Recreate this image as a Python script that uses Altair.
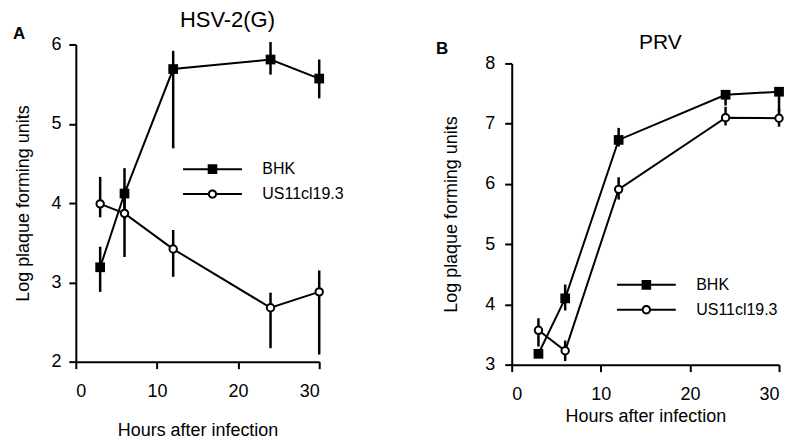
import altair as alt
import pandas as pd

FONT = "Liberation Sans"

hours = [3, 6, 12, 24, 30]
series_names = ["BHK", "US11cl19.3"]

# Panel A: HSV-2(G)
a_bhk = [3.19, 4.12, 5.69, 5.81, 5.57]
a_bhk_lo = [2.88, 3.80, 4.69, 5.62, 5.32]
a_bhk_hi = [3.45, 4.44, 5.92, 6.03, 5.81]
a_us = [3.99, 3.87, 3.42, 2.68, 2.88]
a_us_lo = [3.82, 3.32, 3.07, 2.17, 2.09]
a_us_hi = [4.33, 4.20, 3.66, 2.87, 3.15]

# Panel B: PRV
b_bhk = [3.18, 4.10, 6.73, 7.48, 7.53]
b_bhk_lo = [3.12, 3.90, 6.62, 7.30, 7.20]
b_bhk_hi = [3.26, 4.33, 6.93, 7.55, 7.60]
b_us = [3.57, 3.23, 5.91, 7.10, 7.09]
b_us_lo = [3.30, 3.06, 5.74, 6.97, 6.95]
b_us_hi = [3.77, 3.40, 6.11, 7.28, 7.25]

BHK_PATH = "M-2.95,-0.1H2.95V0.1H-2.95Z M-0.48,-0.48H0.48V0.48H-0.48Z"
US_PATH = ("M-2.95,-0.1H-0.4V0.1H-2.95Z M0.4,-0.1H2.95V0.1H0.4Z "
           "M0.47,0A0.47,0.47 0 1,1 -0.47,0A0.47,0.47 0 1,1 0.47,0Z "
           "M0.27,0A0.27,0.27 0 1,0 -0.27,0A0.27,0.27 0 1,0 0.27,0Z")


def make_df(bhk, bhk_lo, bhk_hi, us, us_lo, us_hi):
    rows = []
    for i, h in enumerate(hours):
        rows.append(dict(hours=h, value=bhk[i], lo=bhk_lo[i], hi=bhk_hi[i], series="BHK"))
    for i, h in enumerate(hours):
        rows.append(dict(hours=h, value=us[i], lo=us_lo[i], hi=us_hi[i], series="US11cl19.3"))
    return pd.DataFrame(rows)


def panel(df, width, height, ydom, yrange, yticks, title, title_dx, title_dy, title_size,
          legend_x, legend_y, letter, letter_x, letter_y,
          xtitle_pad, ytitle_pad, ylabel_pad):
    xscale = alt.Scale(domain=[0, 30], nice=False, zero=False)
    yscale = alt.Scale(domain=ydom, range=yrange, nice=False, zero=False)
    xaxis = alt.Axis(values=[0, 10, 20, 30], title="Hours after infection",
                     titlePadding=xtitle_pad, labelPadding=14)
    yaxis = alt.Axis(values=yticks, title="Log plaque forming units",
                     titlePadding=ytitle_pad, labelPadding=ylabel_pad)
    x = alt.X("hours:Q", scale=xscale, axis=xaxis)
    y = alt.Y("value:Q", scale=yscale, axis=yaxis)
    base = alt.Chart(df)

    err = base.mark_rule(color="black", strokeWidth=2.5).encode(
        x=x, y=alt.Y("lo:Q", scale=yscale, axis=yaxis), y2="hi:Q")
    lines = base.mark_line(color="black", strokeWidth=2).encode(
        x=x, y=y, detail="series:N", order="hours:Q")
    sq = base.transform_filter(alt.datum.series == "BHK").mark_point(
        shape="square", filled=True, color="black", size=95, opacity=1).encode(x=x, y=y)
    ci = base.transform_filter(alt.datum.series == "US11cl19.3").mark_point(
        shape="circle", filled=True, fill="white", stroke="black", strokeWidth=2,
        size=55, opacity=1).encode(x=x, y=y)
    leg = base.transform_filter("false").mark_point(
        filled=True, color="black", opacity=1).encode(
        x=x, y=y,
        shape=alt.Shape("series:N",
                        scale=alt.Scale(domain=series_names, range=[BHK_PATH, US_PATH]),
                        legend=alt.Legend(title=None, orient="none",
                                          legendX=legend_x, legendY=legend_y,
                                          symbolSize=400, symbolFillColor="black",
                                          symbolStrokeWidth=0, symbolOpacity=1,
                                          labelFont=FONT, labelFontSize=16,
                                          labelColor="black", labelOffset=40,
                                          rowPadding=7, padding=0)))
    txt = alt.Chart(pd.DataFrame({"t": [letter]})).mark_text(
        align="left", baseline="alphabetic", fontSize=17, fontWeight="bold",
        font=FONT, color="black").encode(
        text="t:N", x=alt.value(letter_x), y=alt.value(letter_y))

    return alt.layer(err, lines, sq, ci, leg, txt).properties(
        width=width, height=height,
        title=alt.TitleParams(text=title, font=FONT, fontSize=title_size,
                              fontWeight="normal", color="black", dx=title_dx,
                              dy=title_dy, frame="group", anchor="middle", offset=8,
                              baseline="alphabetic"))


df_a = make_df(a_bhk, a_bhk_lo, a_bhk_hi, a_us, a_us_lo, a_us_hi)
df_b = make_df(b_bhk, b_bhk_lo, b_bhk_hi, b_us, b_us_lo, b_us_hi)

pa = panel(df_a, 244, 318, [2, 6], [318, 0], [2, 3, 4, 5, 6], "HSV-2(G)", 30, 32, 22,
           127, 115, "A", -63, -5.5, 21, 18, 8)
pb = panel(df_b, 268, 321, [3, 8], [321, 19], [3, 4, 5, 6, 7, 8], "PRV", 15, 38, 21,
           125, 231, "B", -76, 10, 4, 24, 10)

chart = alt.hconcat(pa, pb, spacing=193, bounds="flush").resolve_scale(
    shape="independent"
).configure_view(stroke=None).configure_axis(
    domainColor="black", domainWidth=2, tickColor="black", tickWidth=2, tickSize=7,
    labelFont=FONT, labelFontSize=18, labelColor="black",
    titleFont=FONT, titleFontSize=18, titleFontWeight="normal", titleColor="black",
    grid=False
).properties(padding={"left": 5, "top": 0, "right": 5, "bottom": 5}, background="white")

chart.save("out.html", embed_options={"renderer": "svg", "actions": False})
